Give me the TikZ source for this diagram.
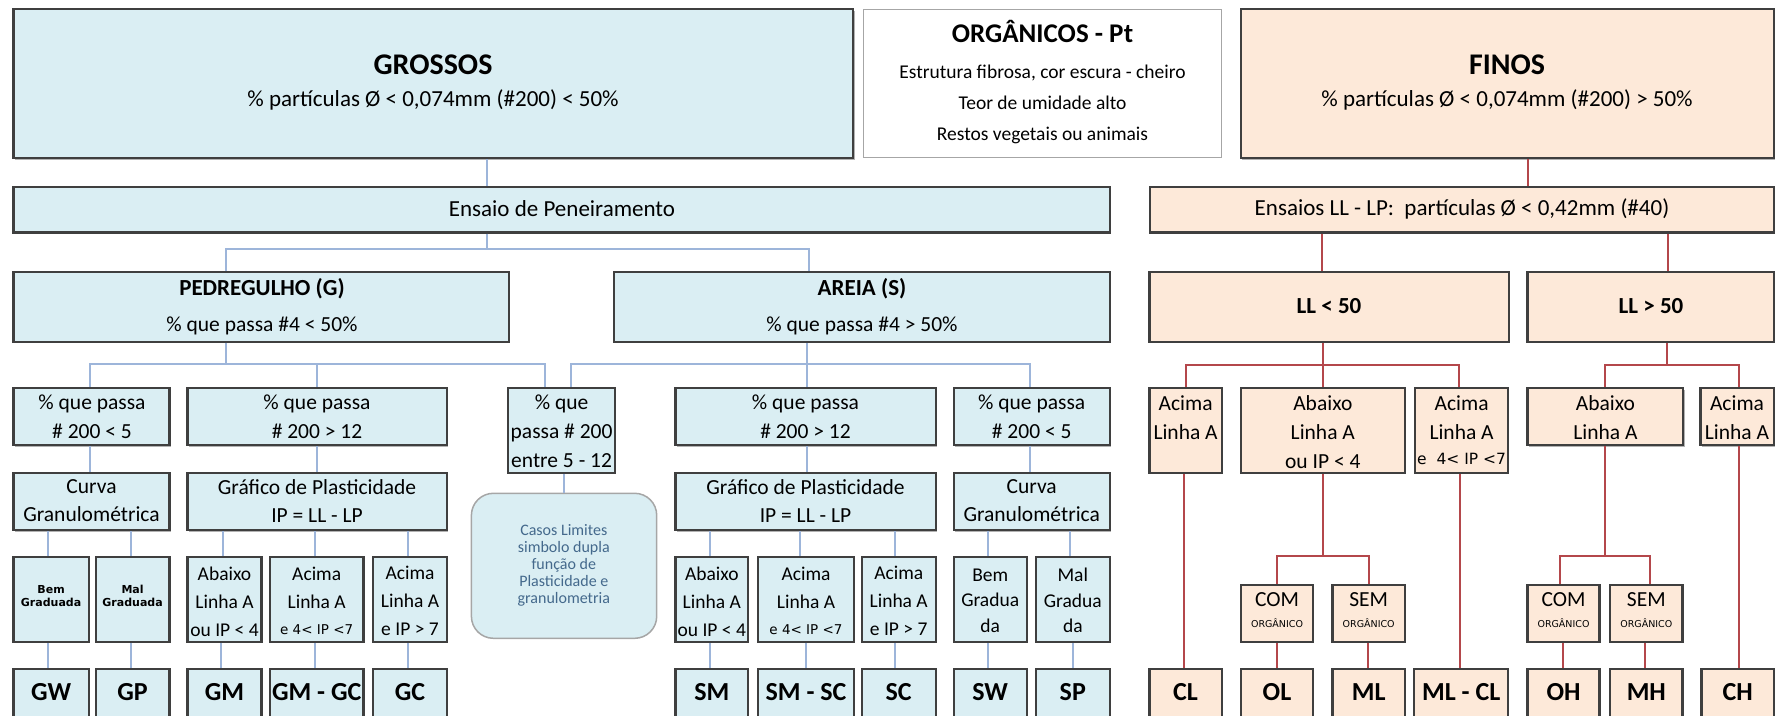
\documentclass[tikz,border=0pt]{standalone}
\usepackage{fontspec}
\usetikzlibrary{shadows}
\setmainfont{Carlito}
\newfontfamily\zzdv{DejaVu Sans}
\definecolor{bfill}{HTML}{DAEEF3}
\definecolor{ofill}{HTML}{FDE9D9}
\definecolor{bdr}{HTML}{3F3F3F}
\definecolor{bline}{HTML}{9DB5DA}
\definecolor{rline}{HTML}{B4474B}
\definecolor{casostxt}{HTML}{44698C}
\tikzset{
  shad/.style={drop shadow={shadow xshift=1.2pt, shadow yshift=-1.6pt, opacity=0.3, fill=black}},
  bbox/.style={draw=bdr, line width=2.2pt, fill=bfill, rectangle, inner sep=0pt, shad},
  obox/.style={draw=bdr, line width=2.2pt, fill=ofill, rectangle, inner sep=0pt, shad},
  wbox/.style={draw=black!35, line width=1.5pt, fill=white, rectangle, inner sep=0pt},
  cbox/.style={draw=black!35, line width=1.5pt, fill=bfill, rectangle, rounded corners=22pt, inner sep=0pt},
  bl/.style={draw=bline, line width=2pt},
  rl/.style={draw=rline, line width=2pt},
  txt/.style={inner sep=0pt, align=center, text=black},
}
\newcommand{\zzTitle}{\fontsize{30}{34}\selectfont\bfseries}
\newcommand{\zzOrgT}{\fontsize{27}{30}\selectfont\bfseries}
\newcommand{\zzOrgL}{\fontsize{19.5}{31}\selectfont}
\newcommand{\zzSub}{\fontsize{23}{29}\selectfont}
\newcommand{\zzHead}{\fontsize{23}{29}\selectfont\bfseries}
\newcommand{\zzN}{\fontsize{21.5}{29}\selectfont}
\newcommand{\zzNc}{\fontsize{21.5}{28.3}\selectfont}
\newcommand{\zzR}{\fontsize{19.5}{28}\selectfont}
\newcommand{\zzRb}{\fontsize{19.5}{25.5}\selectfont}
\newcommand{\zzCode}{\fontsize{26}{30}\selectfont\bfseries}
\newcommand{\zzCasos}{\fontsize{16}{17.2}\selectfont}
\newcommand{\zzTiny}{\zzdv\bfseries\fontsize{11}{13.3}\selectfont}
\newcommand{\zzOrg}{\zzdv\fontsize{9.5}{11}\selectfont}
\newcommand{\zzSm}{\zzdv\fontsize{13.5}{15}\selectfont}
\newcommand{\mkbox}[7]{\node[#1, minimum width={(#5)-(#3)}, minimum height={(#6)-(#4)}] (#2) at ({((#3)+(#5))/2},{((#4)+(#6))/2}) {#7};}
\newcommand{\mktext}[5]{\node[txt, font=#4] (#1) at (#2,#3) {#5};}
\newcommand{\vconn}[4]{\coordinate (vc) at (#4,0); \draw[#1] (#2.south -| vc) -- (#3.north -| vc);}
\begin{document}
\begin{tikzpicture}[x=1pt,y=-1pt]
\useasboundingbox (0,0) rectangle (1775,715);
\clip (0,0) rectangle (1775,715);
% ---------- boxes ----------
\mkbox{bbox}{gros}{13.4}{9.3}{853.3}{158.3}{}
\mkbox{wbox}{org}{863.3}{9.3}{1221.7}{157.3}{}
\mkbox{obox}{finos}{1240.9}{9.3}{1773.8}{158.3}{}
\mkbox{bbox}{ens}{13.4}{186.7}{1109.7}{232.5}{}
\mkbox{obox}{ensll}{1149.9}{186.7}{1773.8}{232.5}{}
\mkbox{bbox}{ped}{13.4}{271.7}{508.9}{341.7}{}
\mkbox{bbox}{areia}{614.3}{271.7}{1109.8}{341.7}{}
\mkbox{obox}{llm}{1149.5}{271.7}{1509}{341.7}{}
\mkbox{obox}{llp}{1527.5}{271.7}{1773.7}{341.7}{}
% row 4
\mkbox{bbox}{gl5}{13.4}{388.3}{169.5}{445}{}
\mkbox{bbox}{gg12}{187.5}{388.3}{446.9}{445}{}
\mkbox{bbox}{entre}{508}{388.3}{615.2}{472.7}{}
\mkbox{bbox}{sg12}{675.4}{388.3}{935.7}{445}{}
\mkbox{bbox}{sl5}{953.6}{388.3}{1109.8}{445}{}
\mkbox{obox}{fa}{1149.5}{388.3}{1221.8}{472.7}{}
\mkbox{obox}{fb}{1240.8}{388.3}{1404.8}{472.7}{}
\mkbox{obox}{fc}{1415.1}{388.3}{1508.1}{472.7}{}
\mkbox{obox}{fd}{1527.5}{388.3}{1683.3}{445}{}
\mkbox{obox}{fe}{1700.5}{388.3}{1773.7}{445}{}
% row 5
\mkbox{bbox}{curvg}{13.4}{472.7}{169.5}{530}{}
\mkbox{bbox}{grafg}{187.5}{472.7}{446.9}{530}{}
\mkbox{cbox}{casos}{471.4}{493.3}{656.7}{638.3}{}
\mkbox{bbox}{grafs}{675.4}{472.7}{935.7}{530}{}
\mkbox{bbox}{curvs}{953.6}{472.7}{1109.8}{530}{}
% row 6
\mkbox{bbox}{bem}{13.4}{557.3}{88.8}{641.7}{}
\mkbox{bbox}{mal}{95.7}{557.3}{169.5}{641.7}{}
\mkbox{bbox}{gab}{187.5}{557.3}{261.4}{641.7}{}
\mkbox{bbox}{gac}{269.8}{557.3}{363.5}{641.7}{}
\mkbox{bbox}{gac7}{373.1}{557.3}{446.9}{641.7}{}
\mkbox{bbox}{sab}{675.4}{557.3}{748.2}{641.7}{}
\mkbox{bbox}{sac}{758}{557.3}{854}{641.7}{}
\mkbox{bbox}{sac7}{861.6}{557.3}{935.7}{641.7}{}
\mkbox{bbox}{sbem}{953.6}{557.3}{1026.8}{641.7}{}
\mkbox{bbox}{smal}{1035.7}{557.3}{1109.8}{641.7}{}
\mkbox{obox}{comA}{1240.8}{585}{1313.1}{641.7}{}
\mkbox{obox}{semA}{1332.5}{585}{1404.8}{641.7}{}
\mkbox{obox}{comB}{1527.5}{585}{1599.4}{641.7}{}
\mkbox{obox}{semB}{1610.1}{585}{1682.4}{641.7}{}
% row 7
\mkbox{bbox}{gw}{13.4}{669.3}{88.8}{730}{}
\mkbox{bbox}{gp}{95.7}{669.3}{169.5}{730}{}
\mkbox{bbox}{gm}{187.5}{669.3}{261.4}{730}{}
\mkbox{bbox}{gmgc}{269.8}{669.3}{363.5}{730}{}
\mkbox{bbox}{gc}{373.1}{669.3}{446.9}{730}{}
\mkbox{bbox}{sm}{675.4}{669.3}{748.2}{730}{}
\mkbox{bbox}{smsc}{758}{669.3}{854}{730}{}
\mkbox{bbox}{sc}{861.6}{669.3}{935.7}{730}{}
\mkbox{bbox}{sw}{953.6}{669.3}{1026.8}{730}{}
\mkbox{bbox}{sp}{1035.7}{669.3}{1109.8}{730}{}
\mkbox{obox}{cl}{1149.5}{669.3}{1221.8}{730}{}
\mkbox{obox}{ol}{1240.8}{669.3}{1313.1}{730}{}
\mkbox{obox}{ml}{1332.5}{669.3}{1404.8}{730}{}
\mkbox{obox}{mlcl}{1414.3}{669.3}{1508.1}{730}{}
\mkbox{obox}{oh}{1527.5}{669.3}{1599.4}{730}{}
\mkbox{obox}{mh}{1610.1}{669.3}{1682.4}{730}{}
\mkbox{obox}{ch}{1701.4}{669.3}{1773.7}{730}{}
% ---------- connectors (coarse side) ----------
\vconn{bl}{gros}{ens}{486.7}
\coordinate (b1) at (486.7,249.3); \coordinate (b1l) at (225.8,249.3); \coordinate (b1r) at (809.4,249.3);
\draw[bl] (ens.south -| b1) -- (b1);
\draw[bl] (ped.north -| b1l) -- (b1l) -- (b1r) -- (areia.north -| b1r);
\coordinate (b2) at (225.8,363.5); \coordinate (b2l) at (89.9,363.5); \coordinate (b2m) at (316.8,363.5); \coordinate (b2r) at (545.3,363.5);
\draw[bl] (ped.south -| b2) -- (b2);
\draw[bl] (gl5.north -| b2l) -- (b2l) -- (b2r) -- (entre.north -| b2r);
\draw[bl] (b2m) -- (gg12.north -| b2m);
\coordinate (b3) at (807.1,363.5); \coordinate (b3l) at (571.4,363.5); \coordinate (b3r) at (1030.4,363.5);
\draw[bl] (areia.south -| b3) -- (sg12.north -| b3);
\draw[bl] (entre.north -| b3l) -- (b3l) -- (b3r) -- (sl5.north -| b3r);
\vconn{bl}{gl5}{curvg}{89.9}
\vconn{bl}{gg12}{grafg}{316.8}
\vconn{bl}{entre}{casos}{563.5}
\vconn{bl}{sg12}{grafs}{807.1}
\vconn{bl}{sl5}{curvs}{1030.4}
\vconn{bl}{curvg}{bem}{47.8}
\vconn{bl}{curvg}{mal}{131.3}
\vconn{bl}{grafg}{gab}{223.1}
\vconn{bl}{grafg}{gac}{314.9}
\vconn{bl}{grafg}{gac7}{408.3}
\vconn{bl}{grafs}{sab}{710.3}
\vconn{bl}{grafs}{sac}{799.6}
\vconn{bl}{grafs}{sac7}{895.1}
\vconn{bl}{curvs}{sbem}{988}
\vconn{bl}{curvs}{smal}{1069.6}
\vconn{bl}{bem}{gw}{47.8}
\vconn{bl}{mal}{gp}{131.3}
\vconn{bl}{gab}{gm}{221}
\vconn{bl}{gac}{gmgc}{314.9}
\vconn{bl}{gac7}{gc}{408.3}
\vconn{bl}{sab}{sm}{710.3}
\vconn{bl}{sac}{smsc}{805.8}
\vconn{bl}{sac7}{sc}{895.1}
\vconn{bl}{sbem}{sw}{988}
\vconn{bl}{smal}{sp}{1072.8}
% ---------- connectors (fine side) ----------
\vconn{rl}{finos}{ensll}{1527.9}
\vconn{rl}{ensll}{llm}{1321.7}
\vconn{rl}{ensll}{llp}{1668.2}
\coordinate (b4) at (1323,365); \coordinate (b4l) at (1186,365); \coordinate (b4r) at (1459,365);
\draw[rl] (llm.south -| b4) -- (fb.north -| b4);
\draw[rl] (fa.north -| b4l) -- (b4l) -- (b4r) -- (fc.north -| b4r);
\coordinate (b5) at (1667.4,365); \coordinate (b5l) at (1604.5,365); \coordinate (b5r) at (1739.3,365);
\draw[rl] (llp.south -| b5) -- (b5);
\draw[rl] (fd.north -| b5l) -- (b5l) -- (b5r) -- (fe.north -| b5r);
\vconn{rl}{fa}{cl}{1184}
\vconn{rl}{fc}{mlcl}{1459.5}
\vconn{rl}{fe}{ch}{1739.3}
\coordinate (b6) at (1322.6,556); \coordinate (b6l) at (1276.5,556); \coordinate (b6r) at (1369,556);
\draw[rl] (fb.south -| b6) -- (b6);
\draw[rl] (comA.north -| b6l) -- (b6l) -- (b6r) -- (semA.north -| b6r);
\coordinate (b7) at (1604.5,556); \coordinate (b7l) at (1559.8,556); \coordinate (b7r) at (1650.2,556);
\draw[rl] (fd.south -| b7) -- (b7);
\draw[rl] (comB.north -| b7l) -- (b7l) -- (b7r) -- (semB.north -| b7r);
\vconn{rl}{comA}{ol}{1276.5}
\vconn{rl}{semA}{ml}{1368}
\vconn{rl}{comB}{oh}{1562.8}
\vconn{rl}{semB}{mh}{1645}
% ---------- texts ----------
\mktext{grosT}{433}{65}{\zzTitle}{GROSSOS}
\mktext{grosS}{433}{100}{\zzSub}{\% partículas Ø < 0,074mm (\#200) < 50\%}
\mktext{orgT}{1042.5}{31.7}{\zzOrgT}{ORGÂNICOS - Pt}
\mktext{orgL}{1042.5}{104}{\zzOrgL}{Estrutura fibrosa, cor escura - cheiro\\Teor de umidade alto\\Restos vegetais ou animais}
\mktext{finT}{1507}{65}{\zzTitle}{FINOS}
\mktext{finS}{1507}{100}{\zzSub}{\% partículas Ø < 0,074mm (\#200) > 50\%}
\mktext{ensT}{562}{209}{\zzSub}{Ensaio de Peneiramento}
\mktext{ensllT}{1462}{209}{\zzSub}{Ensaios LL - LP:\ \ partículas Ø < 0,42mm (\#40)}
\mktext{pedT}{262}{288.3}{\zzHead}{PEDREGULHO (G)}
\mktext{pedS}{262}{326}{\zzN}{\% que passa \#4 < 50\%}
\mktext{areiaT}{862}{288.3}{\zzHead}{AREIA (S)}
\mktext{areiaS}{862}{326}{\zzN}{\% que passa \#4 > 50\%}
\mktext{llmT}{1329}{306}{\zzHead}{LL < 50}
\mktext{llpT}{1651}{306}{\zzHead}{LL > 50}
% row 4
\mktext{gl5T}{92}{417.2}{\zzN}{\% que passa\\\# 200 < 5}
\mktext{gg12T}{317}{417.2}{\zzN}{\% que passa\\\# 200 > 12}
\mktext{entreT}{561.6}{431.4}{\zzN}{\% que\\passa \# 200\\entre 5 - 12}
\mktext{sg12T}{805.5}{417.2}{\zzN}{\% que passa\\\# 200 > 12}
\mktext{sl5T}{1031.7}{417.2}{\zzN}{\% que passa\\\# 200 < 5}
\mktext{faT}{1185.6}{417.9}{\zzN}{Acima\\Linha A}
\mktext{fbT}{1322.8}{431.7}{\zzN}{Abaixo\\Linha A\\ou IP < 4}
\mktext{fcT}{1461.6}{417.9}{\zzN}{Acima\\Linha A}
\mktext{fcS}{1461.6}{459.3}{\zzdv\fontsize{15.5}{17}\selectfont}{e\ \ 4< IP <7}
\mktext{fdT}{1605.4}{417.9}{\zzN}{Abaixo\\Linha A}
\mktext{feT}{1737}{417.9}{\zzN}{Acima\\Linha A}
% row 5
\mktext{curvgT}{91.5}{500.8}{\zzNc}{Curva\\Granulométrica}
\mktext{grafgT}{317}{500.8}{\zzNc}{Gráfico de Plasticidade\\IP = LL - LP}
\node[txt, text=casostxt, font=\zzCasos] (casosT) at (563.8,565.4) {Casos Limites\\simbolo dupla\\função de\\Plasticidade e\\granulometria};
\mktext{grafsT}{805.5}{500.8}{\zzNc}{Gráfico de Plasticidade\\IP = LL - LP}
\mktext{curvsT}{1031.7}{500.8}{\zzNc}{Curva\\Granulométrica}
% row 6
\mktext{bemT}{51.1}{596}{\zzTiny}{Bem\\Graduada}
\mktext{malT}{132.6}{596}{\zzTiny}{Mal\\Graduada}
\mktext{gabT}{224.5}{601.3}{\zzR}{Abaixo\\Linha A\\ou IP < 4}
\mktext{gacT}{316.7}{587.5}{\zzR}{Acima\\Linha A}
\mktext{gacS}{316.7}{629.3}{\zzSm}{e 4< IP <7}
\mktext{gac7T}{410}{601.3}{\zzR}{Acima\\Linha A\\e IP > 7}
\mktext{sabT}{711.8}{601.3}{\zzR}{Abaixo\\Linha A\\ou IP < 4}
\mktext{sacT}{806}{587.5}{\zzR}{Acima\\Linha A}
\mktext{sacS}{806}{629.3}{\zzSm}{e 4< IP <7}
\mktext{sac7T}{898.7}{601.3}{\zzR}{Acima\\Linha A\\e IP > 7}
\mktext{sbemT}{990.2}{600.5}{\zzRb}{Bem\\Gradua\\da}
\mktext{smalT}{1072.8}{600.5}{\zzRb}{Mal\\Gradua\\da}
\mktext{comAT}{1277}{599.3}{\zzN}{COM}
\mktext{comAS}{1277}{623.3}{\zzOrg}{ORGÂNICO}
\mktext{semAT}{1368.7}{599.3}{\zzN}{SEM}
\mktext{semAS}{1368.7}{623.3}{\zzOrg}{ORGÂNICO}
\mktext{comBT}{1563.5}{599.3}{\zzN}{COM}
\mktext{comBS}{1563.5}{623.3}{\zzOrg}{ORGÂNICO}
\mktext{semBT}{1646.3}{599.3}{\zzN}{SEM}
\mktext{semBS}{1646.3}{623.3}{\zzOrg}{ORGÂNICO}
% row 7
\mktext{gwT}{51.1}{691.7}{\zzCode}{GW}
\mktext{gpT}{132.6}{691.7}{\zzCode}{GP}
\mktext{gmT}{224.5}{691.7}{\zzCode}{GM}
\mktext{gmgcT}{316.7}{691.7}{\zzCode}{GM - GC}
\mktext{gcT}{410}{691.7}{\zzCode}{GC}
\mktext{smT}{711.8}{691.7}{\zzCode}{SM}
\mktext{smscT}{806}{691.7}{\zzCode}{SM - SC}
\mktext{scT}{898.7}{691.7}{\zzCode}{SC}
\mktext{swT}{990.2}{691.7}{\zzCode}{SW}
\mktext{spT}{1072.8}{691.7}{\zzCode}{SP}
\mktext{clT}{1185.6}{691.7}{\zzCode}{CL}
\mktext{olT}{1277}{691.7}{\zzCode}{OL}
\mktext{mlT}{1368.7}{691.7}{\zzCode}{ML}
\mktext{mlclT}{1461.2}{691.7}{\zzCode}{ML - CL}
\mktext{ohT}{1563.5}{691.7}{\zzCode}{OH}
\mktext{mhT}{1646.3}{691.7}{\zzCode}{MH}
\mktext{chT}{1737.6}{691.7}{\zzCode}{CH}
\end{tikzpicture}
\end{document}
